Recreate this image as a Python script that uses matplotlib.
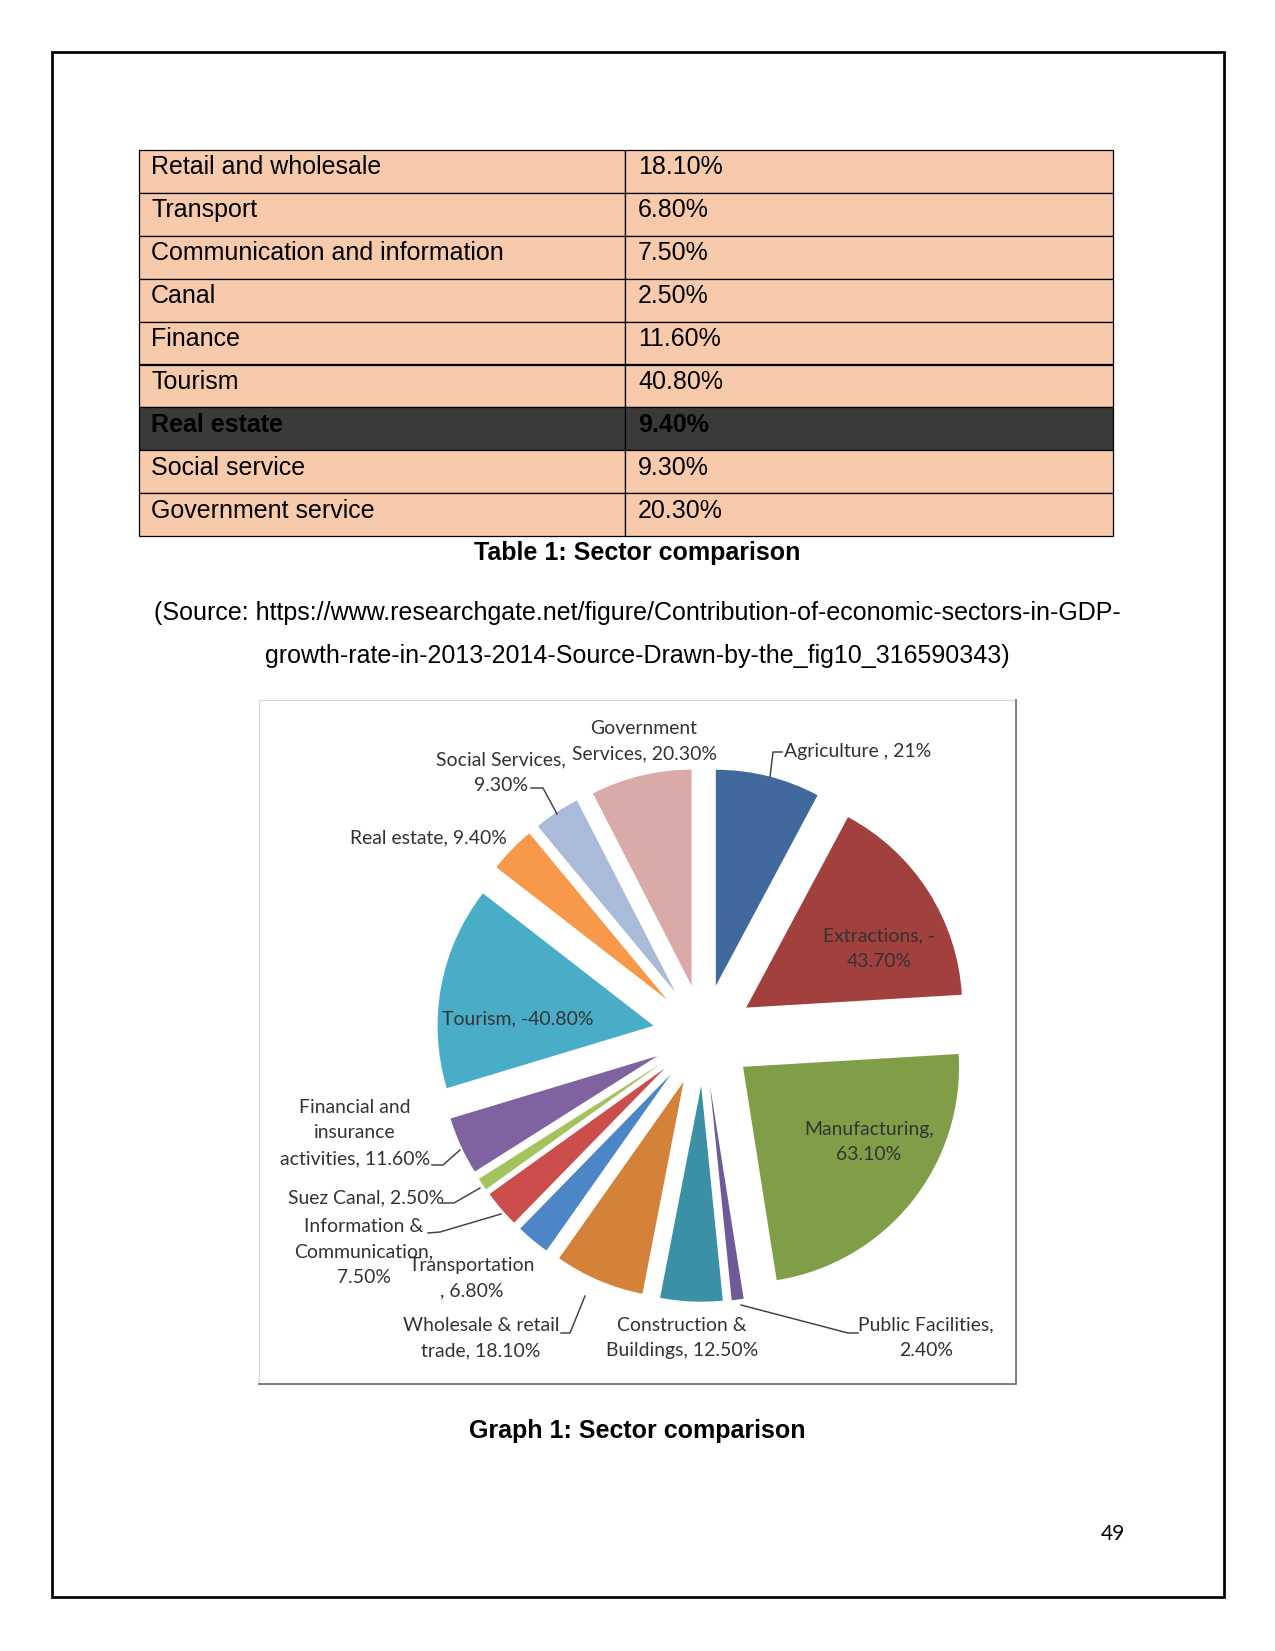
import matplotlib
matplotlib.use("Agg")
import matplotlib.pyplot as plt
from matplotlib.patches import Rectangle

# ---- table data ----
table_sectors = ["Retail and wholesale", "Transport", "Communication and information",
                 "Canal", "Finance", "Tourism", "Real estate", "Social service",
                 "Government service"]
table_values = ["18.10%", "6.80%", "7.50%", "2.50%", "11.60%", "40.80%", "9.40%",
                "9.30%", "20.30%"]
highlight_row = "Real estate"

# ---- pie data (clockwise from 12 o'clock) ----
pie_sectors = ["Agriculture", "Extractions", "Manufacturing", "Public Facilities",
               "Construction & Buildings", "Wholesale & retail trade", "Transportation",
               "Information & Communication", "Suez Canal",
               "Financial and insurance activities", "Tourism", "Real estate",
               "Social Services", "Government Services"]
growth = [21.0, -43.7, 63.1, 2.4, 12.5, 18.1, 6.8, 7.5, 2.5, 11.6, -40.8, 9.4, 9.3, 20.3]
pie_labels = ["Agriculture , 21%", "Extractions, -\n43.70%", "Manufacturing,\n63.10%",
              "Public Facilities,\n2.40%", "Construction &\nBuildings, 12.50%",
              "Wholesale & retail\ntrade, 18.10%", "Transportation\n, 6.80%",
              "Information &\nCommunication,\n7.50%", "Suez Canal, 2.50%",
              "Financial and\ninsurance\nactivities, 11.60%", "Tourism, -40.80%",
              "Real estate, 9.40%", "Social Services,\n9.30%",
              "Government\nServices, 20.30%"]
pie_colors = ["#41699e", "#a2403e", "#809e48", "#6f5a98", "#3b90a6", "#d4823a",
              "#4d86c6", "#cb4e4c", "#a3c35d", "#7f63a1", "#4aadc8", "#f7984a",
              "#aabbd9", "#daaaa9"]

# ---- layout (page pixels, y down) ----
W, H = 1275, 1651
label_pos = [(784, 752, "left"), (879, 949, "center"), (869, 1142, "center"),
             (926, 1338, "center"), (682, 1338, "center"), (481, 1338, "center"),
             (472, 1278, "center"), (364, 1252, "center"), (366, 1198, "center"),
             (355, 1133, "center"), (518, 1019, "center"), (428, 838, "center"),
             (501, 773, "center"), (644, 741, "center")]
leaders = [[(782, 752), (773, 752), (770, 777)],
           [(531, 788), (543, 788), (557, 814)],
           [(432, 1165), (443, 1165), (460, 1150)],
           [(443, 1203), (454, 1203), (480, 1188)],
           [(428, 1233), (440, 1232), (501, 1214)],
           [(561, 1333), (570, 1333), (585, 1296)],
           [(858, 1333), (848, 1333), (741, 1305)]]

pie_cx, pie_cy, pie_r = 703.5, 1035, 216
explode_frac = 0.235

fig = plt.figure(figsize=(W / 150, H / 150), dpi=150)
fig.patch.set_facecolor("white")

# pie axes, sized so one radius unit = pie_r pixels
k = 1.6
half = pie_r * k
ax_pie = fig.add_axes([(pie_cx - half) / W, (H - pie_cy - half) / H, 2 * half / W, 2 * half / H])
sizes = [abs(v) for v in growth]
ax_pie.pie(sizes, colors=pie_colors, startangle=90, counterclock=False,
           explode=[explode_frac] * len(sizes), radius=1,
           wedgeprops=dict(linewidth=0))
ax_pie.set_xlim(-k, k)
ax_pie.set_ylim(-k, k)
ax_pie.axis("off")

# page axes in pixel coordinates, on top
ax = fig.add_axes([0, 0, 1, 1])
ax.set_zorder(2)
ax.patch.set_visible(False)
ax.set_xlim(0, W)
ax.set_ylim(H, 0)
ax.axis("off")

# page border
ax.add_patch(Rectangle((51.5, 51.5), 1172, 1545, fill=False, lw=1.3, ec="black"))

# table
tx0, tx1, tcol, ty0, row_h = 138.5, 1113, 625, 150, 42.9
for i, (name, val) in enumerate(zip(table_sectors, table_values)):
    top = ty0 + i * row_h
    hl = name == highlight_row
    face = "#3b393a" if hl else "#f7caac"
    wt = "bold" if hl else "normal"
    ax.add_patch(Rectangle((tx0, top), tcol - tx0, row_h, fc=face, ec="black", lw=0.6))
    ax.add_patch(Rectangle((tcol, top), tx1 - tcol, row_h, fc=face, ec="black", lw=0.6))
    ax.text(tx0 + 12.5, top + 24.5, name, fontsize=12, family="Liberation Sans",
            va="baseline", ha="left", color="black", weight=wt)
    ax.text(tcol + 13, top + 24.5, val, fontsize=12, family="Liberation Sans",
            va="baseline", ha="left", color="black", weight=wt)

ax.text(637.5, 560, "Table 1: Sector comparison", fontsize=12, family="Liberation Sans",
        weight="bold", ha="center", va="baseline")
ax.text(637, 620, "(Source: https://www.researchgate.net/figure/Contribution-of-economic-sectors-in-GDP-",
        fontsize=12, family="Liberation Sans", ha="center", va="baseline")
ax.text(637, 663, "growth-rate-in-2013-2014-Source-Drawn-by-the_fig10_316590343)",
        fontsize=12, family="Liberation Sans", ha="center", va="baseline")

# chart frame
ax.add_patch(Rectangle((259, 700), 757, 684, fill=False, ec="#d8d8d8", lw=0.6))
ax.plot([1016, 1016, 259], [700, 1384, 1384], color="#7a7a7a", lw=0.9)

# pie labels and leaders
for text, (lx, ly, ha) in zip(pie_labels, label_pos):
    ax.text(lx, ly, text, fontsize=9.3, family="Lato", color="#333333",
            ha=ha, va="center", multialignment="center", linespacing=1.6)
for pts in leaders:
    xs, ys = zip(*pts)
    ax.plot(xs, ys, color="#404040", lw=0.7)

ax.text(637.5, 1438, "Graph 1: Sector comparison", fontsize=12, family="Liberation Sans",
        weight="bold", ha="center", va="baseline")
ax.text(1113, 1540, "49", fontsize=10, family="Lato", ha="center", va="baseline")

fig.savefig("out.png", dpi=150, facecolor="white")
